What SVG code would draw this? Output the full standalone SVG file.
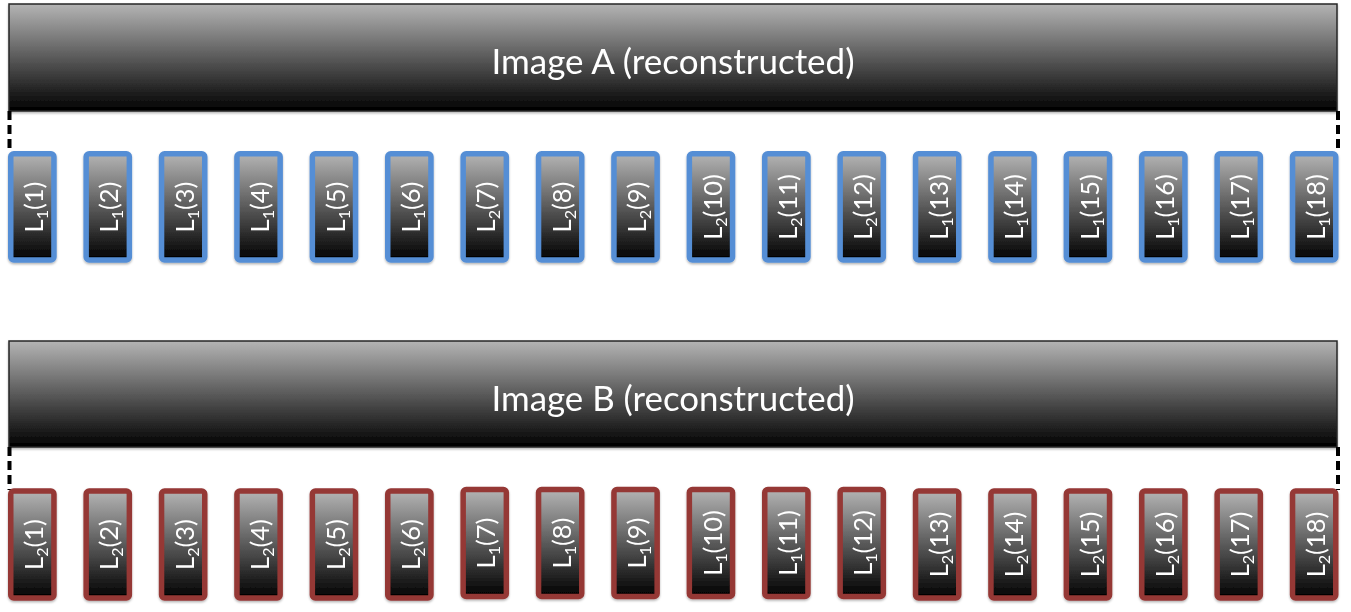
<svg xmlns="http://www.w3.org/2000/svg" width="1351" height="612" viewBox="0 0 1351 612">
<style>
.bar{stroke:#262626;stroke-width:1.5;fill:url(#g)}
.title{font-family:Lato,"Open Sans","Liberation Sans",sans-serif;font-size:35px;fill:#fff;text-anchor:middle}
.bA{fill:url(#g);stroke:#558ED5;stroke-width:5.5}
.bB{fill:url(#g);stroke:#953735;stroke-width:5.5}
.lbl{font-family:Lato,"Open Sans","Liberation Sans",sans-serif;font-size:25.5px;fill:#fff;text-anchor:middle}
.sub{font-size:16px}
.dash{stroke:#000;stroke-width:4;stroke-dasharray:9 5;fill:none}
</style>
<defs>
<linearGradient id="g" x1="0" y1="0" x2="0" y2="1">
<stop offset="0" stop-color="#b4b4b4"/>
<stop offset="1" stop-color="#000"/>
</linearGradient>
<filter id="sh" x="-5%" y="-5%" width="110%" height="115%">
<feDropShadow dx="0" dy="1.5" stdDeviation="1.2" flood-color="#000" flood-opacity="0.3"/>
</filter>
</defs>

<g id="barA" filter="url(#sh)">
<rect class="bar" x="9" y="4" width="1328" height="107"/>
<text class="title" x="673" y="73.5" textLength="363" lengthAdjust="spacingAndGlyphs">Image A (reconstructed)</text>
</g>
<g id="barB" filter="url(#sh)">
<rect class="bar" x="9" y="341" width="1328" height="106"/>
<text class="title" x="673" y="410.5" textLength="363" lengthAdjust="spacingAndGlyphs">Image B (reconstructed)</text>
</g>

<g id="connectors">
<line class="dash" x1="9.5" y1="111" x2="9.5" y2="153"/>
<line class="dash" x1="1338" y1="111" x2="1338" y2="153"/>
<line class="dash" x1="9.5" y1="447" x2="9.5" y2="490"/>
<line class="dash" x1="1338" y1="447" x2="1338" y2="490"/>
</g>

<g id="rowA" filter="url(#sh)">
<g id="a1"><rect class="bA" x="10.75" y="153.75" width="43.2" height="106.2" rx="3"/><text class="lbl" transform="translate(43,207) rotate(-90)">L<tspan class="sub" dy="5">1</tspan><tspan dy="-5">(1)</tspan></text></g>
<g id="a2"><rect class="bA" x="86.15" y="153.75" width="43.2" height="106.2" rx="3"/><text class="lbl" transform="translate(118.4,207) rotate(-90)">L<tspan class="sub" dy="5">1</tspan><tspan dy="-5">(2)</tspan></text></g>
<g id="a3"><rect class="bA" x="161.55" y="153.75" width="43.2" height="106.2" rx="3"/><text class="lbl" transform="translate(193.8,207) rotate(-90)">L<tspan class="sub" dy="5">1</tspan><tspan dy="-5">(3)</tspan></text></g>
<g id="a4"><rect class="bA" x="236.95" y="153.75" width="43.2" height="106.2" rx="3"/><text class="lbl" transform="translate(269.2,207) rotate(-90)">L<tspan class="sub" dy="5">1</tspan><tspan dy="-5">(4)</tspan></text></g>
<g id="a5"><rect class="bA" x="312.35" y="153.75" width="43.2" height="106.2" rx="3"/><text class="lbl" transform="translate(344.6,207) rotate(-90)">L<tspan class="sub" dy="5">1</tspan><tspan dy="-5">(5)</tspan></text></g>
<g id="a6"><rect class="bA" x="387.75" y="153.75" width="43.2" height="106.2" rx="3"/><text class="lbl" transform="translate(420,207) rotate(-90)">L<tspan class="sub" dy="5">1</tspan><tspan dy="-5">(6)</tspan></text></g>
<g id="a7"><rect class="bA" x="463.15" y="153.75" width="43.2" height="106.2" rx="3"/><text class="lbl" transform="translate(495.4,207) rotate(-90)">L<tspan class="sub" dy="5">2</tspan><tspan dy="-5">(7)</tspan></text></g>
<g id="a8"><rect class="bA" x="538.55" y="153.75" width="43.2" height="106.2" rx="3"/><text class="lbl" transform="translate(570.8,207) rotate(-90)">L<tspan class="sub" dy="5">2</tspan><tspan dy="-5">(8)</tspan></text></g>
<g id="a9"><rect class="bA" x="613.95" y="153.75" width="43.2" height="106.2" rx="3"/><text class="lbl" transform="translate(646.2,207) rotate(-90)">L<tspan class="sub" dy="5">2</tspan><tspan dy="-5">(9)</tspan></text></g>
<g id="a10"><rect class="bA" x="689.35" y="153.75" width="43.2" height="106.2" rx="3"/><text class="lbl" transform="translate(721.6,207) rotate(-90)">L<tspan class="sub" dy="5">2</tspan><tspan dy="-5">(10)</tspan></text></g>
<g id="a11"><rect class="bA" x="764.75" y="153.75" width="43.2" height="106.2" rx="3"/><text class="lbl" transform="translate(797,207) rotate(-90)">L<tspan class="sub" dy="5">2</tspan><tspan dy="-5">(11)</tspan></text></g>
<g id="a12"><rect class="bA" x="840.15" y="153.75" width="43.2" height="106.2" rx="3"/><text class="lbl" transform="translate(872.4,207) rotate(-90)">L<tspan class="sub" dy="5">2</tspan><tspan dy="-5">(12)</tspan></text></g>
<g id="a13"><rect class="bA" x="915.55" y="153.75" width="43.2" height="106.2" rx="3"/><text class="lbl" transform="translate(947.8,207) rotate(-90)">L<tspan class="sub" dy="5">1</tspan><tspan dy="-5">(13)</tspan></text></g>
<g id="a14"><rect class="bA" x="990.95" y="153.75" width="43.2" height="106.2" rx="3"/><text class="lbl" transform="translate(1023.2,207) rotate(-90)">L<tspan class="sub" dy="5">1</tspan><tspan dy="-5">(14)</tspan></text></g>
<g id="a15"><rect class="bA" x="1066.35" y="153.75" width="43.2" height="106.2" rx="3"/><text class="lbl" transform="translate(1098.6,207) rotate(-90)">L<tspan class="sub" dy="5">1</tspan><tspan dy="-5">(15)</tspan></text></g>
<g id="a16"><rect class="bA" x="1141.75" y="153.75" width="43.2" height="106.2" rx="3"/><text class="lbl" transform="translate(1174,207) rotate(-90)">L<tspan class="sub" dy="5">1</tspan><tspan dy="-5">(16)</tspan></text></g>
<g id="a17"><rect class="bA" x="1217.15" y="153.75" width="43.2" height="106.2" rx="3"/><text class="lbl" transform="translate(1249.4,207) rotate(-90)">L<tspan class="sub" dy="5">1</tspan><tspan dy="-5">(17)</tspan></text></g>
<g id="a18"><rect class="bA" x="1292.55" y="153.75" width="43.2" height="106.2" rx="3"/><text class="lbl" transform="translate(1324.8,207) rotate(-90)">L<tspan class="sub" dy="5">1</tspan><tspan dy="-5">(18)</tspan></text></g>
</g>

<g id="rowB" filter="url(#sh)">
<g id="b1"><rect class="bB" x="10.75" y="491" width="43.2" height="107" rx="3"/><text class="lbl" transform="translate(43,544.5) rotate(-90)">L<tspan class="sub" dy="5">2</tspan><tspan dy="-5">(1)</tspan></text></g>
<g id="b2"><rect class="bB" x="86.15" y="491" width="43.2" height="107" rx="3"/><text class="lbl" transform="translate(118.4,544.5) rotate(-90)">L<tspan class="sub" dy="5">2</tspan><tspan dy="-5">(2)</tspan></text></g>
<g id="b3"><rect class="bB" x="161.55" y="491" width="43.2" height="107" rx="3"/><text class="lbl" transform="translate(193.8,544.5) rotate(-90)">L<tspan class="sub" dy="5">2</tspan><tspan dy="-5">(3)</tspan></text></g>
<g id="b4"><rect class="bB" x="236.95" y="491" width="43.2" height="107" rx="3"/><text class="lbl" transform="translate(269.2,544.5) rotate(-90)">L<tspan class="sub" dy="5">2</tspan><tspan dy="-5">(4)</tspan></text></g>
<g id="b5"><rect class="bB" x="312.35" y="491" width="43.2" height="107" rx="3"/><text class="lbl" transform="translate(344.6,544.5) rotate(-90)">L<tspan class="sub" dy="5">2</tspan><tspan dy="-5">(5)</tspan></text></g>
<g id="b6"><rect class="bB" x="387.75" y="491" width="43.2" height="107" rx="3"/><text class="lbl" transform="translate(420,544.5) rotate(-90)">L<tspan class="sub" dy="5">2</tspan><tspan dy="-5">(6)</tspan></text></g>
<g id="b7"><rect class="bB" x="463.15" y="489.5" width="43.2" height="107" rx="3"/><text class="lbl" transform="translate(495.4,543) rotate(-90)">L<tspan class="sub" dy="5">1</tspan><tspan dy="-5">(7)</tspan></text></g>
<g id="b8"><rect class="bB" x="538.55" y="489.5" width="43.2" height="107" rx="3"/><text class="lbl" transform="translate(570.8,543) rotate(-90)">L<tspan class="sub" dy="5">1</tspan><tspan dy="-5">(8)</tspan></text></g>
<g id="b9"><rect class="bB" x="613.95" y="489.5" width="43.2" height="107" rx="3"/><text class="lbl" transform="translate(646.2,543) rotate(-90)">L<tspan class="sub" dy="5">1</tspan><tspan dy="-5">(9)</tspan></text></g>
<g id="b10"><rect class="bB" x="689.35" y="489.5" width="43.2" height="107" rx="3"/><text class="lbl" transform="translate(721.6,543) rotate(-90)">L<tspan class="sub" dy="5">1</tspan><tspan dy="-5">(10)</tspan></text></g>
<g id="b11"><rect class="bB" x="764.75" y="489.5" width="43.2" height="107" rx="3"/><text class="lbl" transform="translate(797,543) rotate(-90)">L<tspan class="sub" dy="5">1</tspan><tspan dy="-5">(11)</tspan></text></g>
<g id="b12"><rect class="bB" x="840.15" y="489.5" width="43.2" height="107" rx="3"/><text class="lbl" transform="translate(872.4,543) rotate(-90)">L<tspan class="sub" dy="5">1</tspan><tspan dy="-5">(12)</tspan></text></g>
<g id="b13"><rect class="bB" x="915.55" y="491" width="43.2" height="107" rx="3"/><text class="lbl" transform="translate(947.8,544.5) rotate(-90)">L<tspan class="sub" dy="5">2</tspan><tspan dy="-5">(13)</tspan></text></g>
<g id="b14"><rect class="bB" x="990.95" y="491" width="43.2" height="107" rx="3"/><text class="lbl" transform="translate(1023.2,544.5) rotate(-90)">L<tspan class="sub" dy="5">2</tspan><tspan dy="-5">(14)</tspan></text></g>
<g id="b15"><rect class="bB" x="1066.35" y="491" width="43.2" height="107" rx="3"/><text class="lbl" transform="translate(1098.6,544.5) rotate(-90)">L<tspan class="sub" dy="5">2</tspan><tspan dy="-5">(15)</tspan></text></g>
<g id="b16"><rect class="bB" x="1141.75" y="491" width="43.2" height="107" rx="3"/><text class="lbl" transform="translate(1174,544.5) rotate(-90)">L<tspan class="sub" dy="5">2</tspan><tspan dy="-5">(16)</tspan></text></g>
<g id="b17"><rect class="bB" x="1217.15" y="491" width="43.2" height="107" rx="3"/><text class="lbl" transform="translate(1249.4,544.5) rotate(-90)">L<tspan class="sub" dy="5">2</tspan><tspan dy="-5">(17)</tspan></text></g>
<g id="b18"><rect class="bB" x="1292.55" y="491" width="43.2" height="107" rx="3"/><text class="lbl" transform="translate(1324.8,544.5) rotate(-90)">L<tspan class="sub" dy="5">2</tspan><tspan dy="-5">(18)</tspan></text></g>
</g>
</svg>
